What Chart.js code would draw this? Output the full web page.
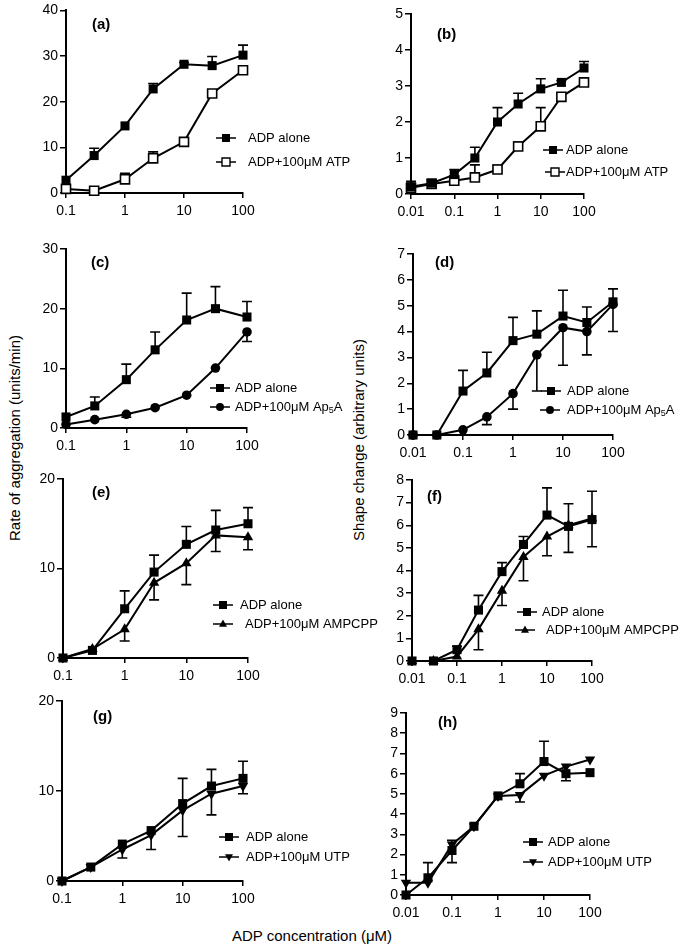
<!DOCTYPE html>
<html>
<head>
<meta charset="utf-8">
<script src="https://cdn.jsdelivr.net/npm/chart.js@4.4.1/dist/chart.umd.min.js"></script>
<style>
  body { margin: 0; background: #fff; width: 681px; height: 947px; position: relative; overflow: hidden;
         font-family: "Liberation Sans", Arial, sans-serif; }
  canvas { position: absolute; }
  .ttl { position: absolute; font-size: 15px; white-space: nowrap; color: #000; transform: translate(-50%, -50%); }
  .rot { transform: translate(-50%, -50%) rotate(-90deg); }
</style>
</head>
<body>
<div class="ttl rot" style="left:14px; top:438px;">Rate of aggregation (units/min)</div>
<div class="ttl rot" style="left:358px; top:440px;">Shape change (arbitrary units)</div>
<div class="ttl" style="left:312px; top:935px;">ADP concentration (&mu;M)</div>
<script>
const FONT = '"Liberation Sans", Arial, sans-serif';

// ADP concentrations (uM)
const aggX = [0.1, 0.3, 1, 3, 10, 30, 100];
const shapeX = [0.01, 0.03, 0.1, 0.3, 1, 3, 10, 30, 100];
const aggTicks = [0.1, 1, 10, 100];
const shapeTicks = [0.01, 0.1, 1, 10, 100];

// (a) aggregation, ATP
const aAlone   = [2.8, 8.2, 14.7, 22.8, 28.2, 27.9, 30.2];
const aAloneHi = [0, 1.6, 0, 1.2, 0.4, 2.0, 2.2];
const aATP     = [0.9, 0.5, 3.0, 7.6, 11.2, 21.8, 26.9];
const aATPHi   = [0, 0, 1.3, 1.4, 0, 0, 0];

// (b) shape change, ATP
const bAlone   = [0.2, 0.3, 0.54, 1.0, 2.0, 2.5, 2.92, 3.1, 3.5];
const bAloneHi = [0.15, 0.1, 0.14, 0.3, 0.4, 0.3, 0.28, 0.05, 0.18];
const bATP     = [0.17, 0.28, 0.37, 0.46, 0.68, 1.32, 1.88, 2.7, 3.1];
const bATPHi   = [0, 0, 0, 0.35, 0.12, 0.12, 0.52, 0, 0];

// (c) aggregation, Ap5A
const cAlone   = [1.85, 3.7, 8.1, 13.1, 18.1, 20, 18.6];
const cAloneHi = [0, 1.5, 2.6, 3.0, 4.5, 3.7, 2.6];
const cAp5A    = [0.6, 1.4, 2.3, 3.4, 5.5, 10.05, 16.1];
const cAp5ALo  = [0, 0, 0.5, 0, 0, 0, 1.6];

// (d) shape change, Ap5A
const dAlone   = [0, 0, 1.7, 2.4, 3.65, 3.9, 4.6, 4.35, 5.15];
const dAloneHi = [0, 0, 0.8, 0.8, 0.9, 0.9, 1.0, 0.6, 0.5];
const dAp5A    = [0, 0, 0.2, 0.7, 1.6, 3.1, 4.15, 4.0, 5.05];
const dAp5ALo  = [0, 0, 0, 0.3, 0.6, 1.4, 1.45, 0.9, 1.05];

// (e) aggregation, AMPCPP
const eAlone   = [0, 0.85, 5.5, 9.6, 12.7, 14.3, 15];
const eAloneHi = [0, 0, 2.0, 1.9, 2.0, 2.2, 1.8];
const eAMP     = [0, 1.0, 3.2, 8.4, 10.6, 13.7, 13.5];
const eAMPLo   = [0, 0, 1.3, 1.9, 2.4, 1.8, 1.4];

// (f) shape change, AMPCPP
const fAlone   = [0, 0, 0.5, 2.25, 3.95, 5.15, 6.45, 5.95, 6.25];
const fAloneHi = [0, 0, 0.15, 0.65, 0.4, 0.35, 1.2, 1.0, 1.25];
const fAMP     = [0, 0, 0.2, 1.4, 3.1, 4.6, 5.5, 6.0, 6.3];
const fAMPLo   = [0, 0, 0, 0.9, 0.65, 1.05, 0.85, 1.2, 1.25];

// (g) aggregation, UTP
const gAlone   = [0, 1.55, 4.1, 5.6, 8.6, 10.55, 11.4];
const gAloneHi = [0, 0, 0, 0, 2.8, 1.85, 1.9];
const gUTP     = [0, 1.55, 3.5, 5.1, 7.85, 9.7, 10.55];
const gUTPLo   = [0, 0, 0.95, 1.6, 2.9, 2.35, 0.85];

// (h) shape change, UTP
const hAlone   = [0, 0.85, 2.2, 3.4, 4.9, 5.5, 6.6, 6.0, 6.05];
const hAloneHi = [0, 0.75, 0.5, 0, 0, 0.5, 1.0, 0, 0];
const hAloneLo = [0, 0, 0.6, 0, 0, 0, 0, 0.35, 0];
const hUTP     = [0.6, 0.6, 2.5, 3.4, 4.9, 4.95, 5.9, 6.35, 6.7];
const hUTPLo   = [0, 0, 0, 0, 0, 0.35, 0, 0, 0];

const panels = [
  { id: 'a', col: 0, x: aggX, ticks: aggTicks, ymax: 40, step: 10, plot: [66, 10, 243, 193], label: [92, 25],
    series: [
      { name: 'ADP alone', y: aAlone, hi: aAloneHi, shape: 'square', leg: [226, 138, 248] },
      { name: 'ADP+100μM ATP', y: aATP, hi: aATPHi, shape: 'openSquare', leg: [226, 162, 248] } ] },
  { id: 'b', col: 1, x: shapeX, ticks: shapeTicks, ymax: 5, step: 1, plot: [411, 14, 584, 194], label: [437, 35],
    series: [
      { name: 'ADP alone', y: bAlone, hi: bAloneHi, shape: 'square', leg: [553, 150, 566] },
      { name: 'ADP+100μM ATP', y: bATP, hi: bATPHi, shape: 'openSquare', leg: [555, 172, 566] } ] },
  { id: 'c', col: 0, x: aggX, ticks: aggTicks, ymax: 30, step: 10, plot: [66, 249, 247, 428], label: [91, 263],
    series: [
      { name: 'ADP alone', y: cAlone, hi: cAloneHi, shape: 'square', leg: [220, 388, 235] },
      { name: 'ADP+100μM Ap_5A', y: cAp5A, lo: cAp5ALo, shape: 'circle', leg: [220, 407, 235] } ] },
  { id: 'd', col: 1, x: shapeX, ticks: shapeTicks, ymax: 7, step: 1, plot: [413, 254, 613, 435], label: [435, 263],
    series: [
      { name: 'ADP alone', y: dAlone, hi: dAloneHi, shape: 'square', leg: [551, 391, 567] },
      { name: 'ADP+100μM Ap_5A', y: dAp5A, lo: dAp5ALo, shape: 'circle', leg: [550, 410, 567] } ] },
  { id: 'e', col: 0, x: aggX, ticks: aggTicks, ymax: 20, step: 10, plot: [63, 479, 248, 658], label: [92, 493],
    series: [
      { name: 'ADP alone', y: eAlone, hi: eAloneHi, shape: 'square', leg: [223, 605, 240] },
      { name: 'ADP+100μM AMPCPP', y: eAMP, lo: eAMPLo, shape: 'triangle', leg: [223, 624, 245] } ] },
  { id: 'f', col: 1, x: shapeX, ticks: shapeTicks, ymax: 8, step: 1, plot: [412, 480, 592, 661], label: [427, 497],
    series: [
      { name: 'ADP alone', y: fAlone, hi: fAloneHi, shape: 'square', leg: [527, 612, 542] },
      { name: 'ADP+100μM AMPCPP', y: fAMP, lo: fAMPLo, shape: 'triangle', leg: [525, 630, 546] } ] },
  { id: 'g', col: 0, x: aggX, ticks: aggTicks, ymax: 20, step: 10, plot: [62, 701, 243, 881], label: [93, 717],
    series: [
      { name: 'ADP alone', y: gAlone, hi: gAloneHi, shape: 'square', leg: [229, 837, 246] },
      { name: 'ADP+100μM UTP', y: gUTP, lo: gUTPLo, shape: 'triangleDown', leg: [229, 857, 246] } ] },
  { id: 'h', col: 1, x: shapeX, ticks: shapeTicks, ymax: 9, step: 1, plot: [406, 713, 590, 895], label: [438, 723],
    series: [
      { name: 'ADP alone', y: hAlone, hi: hAloneHi, lo: hAloneLo, shape: 'square', leg: [533, 842, 548] },
      { name: 'ADP+100μM UTP', y: hUTP, lo: hUTPLo, shape: 'triangleDown', leg: [533, 862, 548] } ] }
];

function pointStyleFor(shape) {
  switch (shape) {
    case 'openSquare': return { pointStyle: 'rect', pointRadius: 6.4, pointBackgroundColor: '#fff', pointBorderWidth: 1.6 };
    case 'circle': return { pointStyle: 'circle', pointRadius: 4.8, pointBackgroundColor: '#000', pointBorderWidth: 0 };
    case 'triangle': return { pointStyle: 'triangle', pointRadius: 6, pointBackgroundColor: '#000', pointBorderWidth: 0 };
    case 'triangleDown': return { pointStyle: 'triangle', pointRotation: 180, pointRadius: 6, pointBackgroundColor: '#000', pointBorderWidth: 0 };
    default: return { pointStyle: 'rect', pointRadius: 6.4, pointBackgroundColor: '#000', pointBorderWidth: 0 };
  }
}

function drawMark(ctx, shape, x, y, r) {
  ctx.save();
  ctx.fillStyle = '#000'; ctx.strokeStyle = '#000'; ctx.lineWidth = 1.4;
  ctx.beginPath();
  if (shape === 'circle') ctx.arc(x, y, r, 0, Math.PI * 2);
  else if (shape === 'triangle') { ctx.moveTo(x, y - r * 1.1); ctx.lineTo(x + r, y + r * 0.7); ctx.lineTo(x - r, y + r * 0.7); ctx.closePath(); }
  else if (shape === 'triangleDown') { ctx.moveTo(x, y + r * 1.1); ctx.lineTo(x + r, y - r * 0.7); ctx.lineTo(x - r, y - r * 0.7); ctx.closePath(); }
  else ctx.rect(x - r, y - r, 2 * r, 2 * r);
  if (shape === 'openSquare') { ctx.fillStyle = '#fff'; ctx.fill(); ctx.stroke(); } else ctx.fill();
  ctx.restore();
}

// text with "_5" style subscripts
function drawLabel(ctx, text, x, y) {
  const parts = text.split(/_(\d)/);
  let cx = x;
  parts.forEach((p, i) => {
    const sub = i % 2 === 1;
    ctx.font = (sub ? '9px ' : '13px ') + FONT;
    ctx.fillText(p, cx, sub ? y + 4 : y);
    cx += ctx.measureText(p).width;
  });
}

function makeDeco(p, ox, oy) {
  return {
    id: 'deco' + p.id,
    beforeDatasetsDraw(chart) {
      const ctx = chart.ctx, ys = chart.scales.y;
      ctx.save();
      ctx.strokeStyle = '#000';
      ctx.lineWidth = 1.6;
      chart.data.datasets.forEach((ds, i) => {
        const meta = chart.getDatasetMeta(i);
        meta.data.forEach((pt, j) => {
          const v = ds.data[j].y;
          [[ds.errHi, 1], [ds.errLo, -1]].forEach(([arr, dir]) => {
            if (!arr || !arr[j]) return;
            const yy = ys.getPixelForValue(v + dir * arr[j]);
            ctx.beginPath();
            ctx.moveTo(pt.x, pt.y); ctx.lineTo(pt.x, yy);
            ctx.moveTo(pt.x - 5, yy); ctx.lineTo(pt.x + 5, yy);
            ctx.stroke();
          });
        });
      });
      ctx.restore();
    },
    afterDraw(chart) {
      const ctx = chart.ctx;
      ctx.save();
      ctx.fillStyle = '#000';
      ctx.textBaseline = 'middle';
      ctx.font = 'bold 15px ' + FONT;
      ctx.fillText('(' + p.id + ')', p.label[0] - ox, p.label[1] - oy);
      p.series.forEach(s => {
        const [mx, my, tx] = s.leg;
        ctx.strokeStyle = '#000';
        ctx.lineWidth = 1.5;
        ctx.beginPath();
        ctx.moveTo(mx - ox - 10, my - oy); ctx.lineTo(mx - ox + 10, my - oy);
        ctx.stroke();
        drawMark(ctx, s.shape, mx - ox, my - oy, 4);
        ctx.fillStyle = '#000';
        drawLabel(ctx, s.name, tx - ox, my - oy);
      });
      ctx.restore();
    }
  };
}

const tickFont = { family: FONT, size: 14 };

panels.forEach(p => {
  const [L, T, R, B] = p.plot;
  const cx = p.col ? 340 : 0, cw = p.col ? 341 : 400;
  const top = Math.max(0, T - 22), ch = B - top + 36;
  const cv = document.createElement('canvas');
  cv.width = cw; cv.height = ch;
  cv.style.left = cx + 'px'; cv.style.top = top + 'px';
  cv.style.width = cw + 'px'; cv.style.height = ch + 'px';
  document.body.appendChild(cv);

  const datasets = p.series.map(s => Object.assign({
    label: s.name,
    data: p.x.map((xv, k) => ({ x: xv, y: s.y[k] })),
    errHi: s.hi, errLo: s.lo,
    borderColor: '#000', borderWidth: 2, pointBorderColor: '#000',
    tension: 0, fill: false, clip: false
  }, pointStyleFor(s.shape)));

  new Chart(cv, {
    type: 'line',
    data: { datasets },
    options: {
      responsive: false,
      animation: false,
      layout: { padding: { left: L - cx - 40, top: T - top, right: cx + cw - R, bottom: ch - (B - top) - 30 } },
      plugins: { legend: { display: false }, tooltip: { enabled: false } },
      scales: {
        x: {
          type: 'logarithmic', min: p.ticks[0], max: p.ticks[p.ticks.length - 1],
          afterBuildTicks: s => { s.ticks = p.ticks.map(v => ({ value: v })); },
          afterFit: s => { s.height = 30; },
          ticks: { color: '#000', font: tickFont, padding: 5, maxRotation: 0, autoSkip: false, callback: v => String(v) },
          grid: { drawOnChartArea: false, drawTicks: true, tickLength: 5, color: '#000', lineWidth: 1.5 },
          border: { display: true, color: '#000', width: 2 }
        },
        y: {
          type: 'linear', min: 0, max: p.ymax,
          afterFit: s => { s.width = 40; },
          ticks: { stepSize: p.step, color: '#000', font: tickFont, padding: 2 },
          grid: { drawOnChartArea: false, drawTicks: true, tickLength: 6, color: '#000', lineWidth: 1.5 },
          border: { display: true, color: '#000', width: 2 }
        }
      }
    },
    plugins: [makeDeco(p, cx, top)]
  });
});
</script>
</body>
</html>
